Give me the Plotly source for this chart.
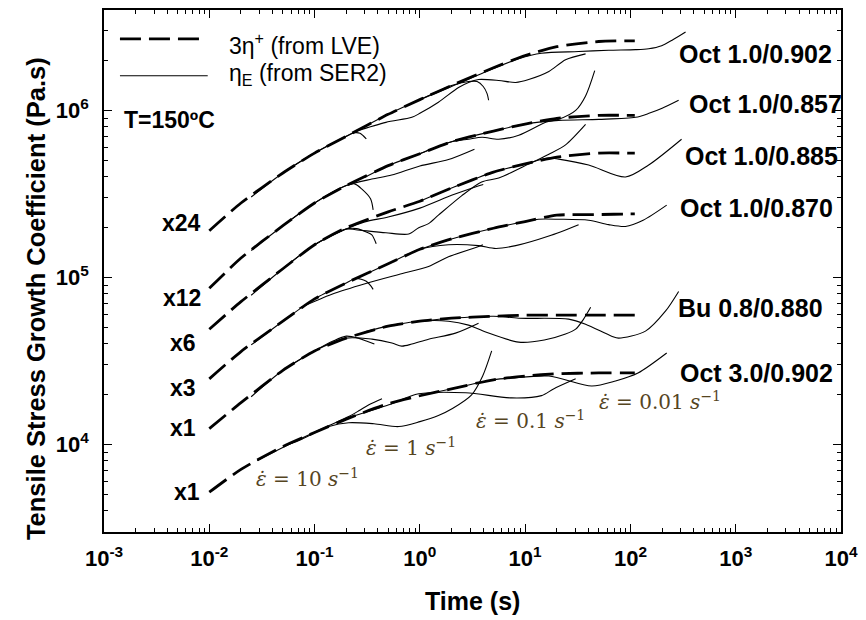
import plotly.graph_objects as go

# ---------------- data ----------------
# Linear viscoelastic envelope (3*eta+ times shift factor), common time grid (s)
lve_t = [0.01, 0.02, 0.05, 0.1, 0.2, 0.5, 1, 2, 5, 10, 20, 50, 100, 110]
lve_oct10_902 = [1.905e5, 2.79e5, 4.22e5, 5.55e5, 7.0e5, 9.47e5, 1.16e6, 1.41e6, 1.80e6, 2.13e6, 2.41e6, 2.585e6, 2.61e6, 2.61e6]
lve_oct10_857 = [8.6e4, 1.306e5, 2.04e5, 2.79e5, 3.55e5, 4.67e5, 5.5e5, 6.49e5, 7.52e5, 8.28e5, 8.96e5, 9.34e5, 9.34e5, 9.34e5]
lve_oct10_885 = [4.9e4, 7.16e4, 1.127e5, 1.57e5, 1.985e5, 2.47e5, 2.86e5, 3.43e5, 4.27e5, 4.79e5, 5.25e5, 5.55e5, 5.55e5, 5.55e5]
lve_oct10_870 = [2.47e4, 3.6e4, 5.47e4, 7.44e4, 9.27e4, 1.206e5, 1.474e5, 1.70e5, 1.97e5, 2.16e5, 2.36e5, 2.38e5, 2.40e5, 2.40e5]
lve_bu08_880 = [1.245e4, 1.778e4, 2.78e4, 3.63e4, 4.33e4, 5.11e4, 5.47e4, 5.70e4, 5.86e4, 5.94e4, 5.94e4, 5.94e4, 5.94e4, 5.94e4]
lve_oct30_902 = [5.18e3, 7.10e3, 9.73e3, 1.179e4, 1.419e4, 1.754e4, 1.957e4, 2.154e4, 2.44e4, 2.57e4, 2.65e4, 2.68e4, 2.68e4, 2.68e4]

# SER2 extensional viscosity, per material and Hencky rate (10, 1, 0.1, 0.01 1/s)
a10_t = [0.025, 0.05, 0.1, 0.2, 0.24, 0.27, 0.29, 0.31]
a10_e = [3.03e5, 4.22e5, 5.55e5, 7.0e5, 7.35e5, 7.3e5, 7.05e5, 6.75e5]
a1_t = [0.05, 0.1, 0.2, 0.5, 1, 2, 2.9, 3.5, 4.0, 4.35, 4.5]
a1_e = [4.22e5, 5.55e5, 7.0e5, 9.47e5, 1.16e6, 1.41e6, 1.49e6, 1.49e6, 1.39e6, 1.26e6, 1.15e6]
a01_t = [0.246, 0.476, 0.839, 1.0, 1.5, 2.33, 2.9, 3.61, 5.61, 8.14, 10.8, 16.8, 24.2, 37.5]
a01_e = [7.5e5, 8.48e5, 9.09e5, 9.6e5, 1.12e6, 1.37e6, 1.47e6, 1.53e6, 1.51e6, 1.47e6, 1.53e6, 1.71e6, 2.01e6, 2.18e6]
a001_t = [1.0, 2.0, 5.0, 8.7, 14.3, 32.2, 62.1, 112, 149, 198, 253, 334]
a001_e = [1.16e6, 1.39e6, 1.78e6, 2.04e6, 2.20e6, 2.25e6, 2.29e6, 2.31e6, 2.34e6, 2.44e6, 2.65e6, 2.95e6]

b10_t = [0.025, 0.05, 0.1, 0.2, 0.24, 0.28, 0.34, 0.36]
b10_e = [1.45e5, 2.04e5, 2.79e5, 3.55e5, 3.63e5, 3.39e5, 2.96e5, 2.54e5]
b1_t = [0.05, 0.1, 0.2, 0.35, 0.54, 1.0, 1.87, 3.3]
b1_e = [2.04e5, 2.79e5, 3.55e5, 3.88e5, 4.1e5, 4.65e5, 5.08e5, 5.86e5]
b01_t = [0.3, 0.5, 1.0, 2.0, 2.9, 3.9, 5.6, 8.7, 15.7, 20.8, 30.2, 37.5, 45.8]
b01_e = [3.98e5, 4.67e5, 5.5e5, 6.49e5, 6.72e5, 6.90e5, 6.72e5, 7.10e5, 8.48e5, 8.84e5, 1.0e6, 1.22e6, 1.73e6]
b001_t = [1.0, 2.0, 5.0, 10, 20.8, 50, 112, 150, 200, 287]
b001_e = [5.5e5, 6.49e5, 7.52e5, 8.28e5, 8.72e5, 8.84e5, 9.09e5, 9.6e5, 1.03e6, 1.15e6]

c10_t = [0.025, 0.05, 0.1, 0.2, 0.25, 0.31, 0.35, 0.385]
c10_e = [7.82e4, 1.127e5, 1.57e5, 1.95e5, 1.96e5, 1.87e5, 1.80e5, 1.59e5]
c1_t = [0.05, 0.1, 0.2, 0.3, 0.5, 1.0, 2.0, 3.0, 4.0]
c1_e = [1.127e5, 1.57e5, 1.95e5, 2.15e5, 2.3e5, 2.6e5, 3.1e5, 3.4e5, 3.6e5]
c01_t = [0.1, 0.2, 0.246, 0.476, 0.785, 0.975, 1.21, 1.5, 2.49, 3.86, 5.61, 10.8, 16.8, 24.2, 37.5]
c01_e = [1.57e5, 1.95e5, 1.93e5, 1.85e5, 1.82e5, 1.985e5, 2.1e5, 2.36e5, 3.08e5, 3.73e5, 3.94e5, 4.77e5, 5.47e5, 6.22e5, 8.24e5]
c001_t = [1.0, 2.0, 5.0, 10, 16.8, 20.8, 40.1, 89.7, 149, 306]
c001_e = [2.86e5, 3.43e5, 4.27e5, 4.79e5, 5.19e5, 5.11e5, 4.71e5, 3.99e5, 4.71e5, 6.72e5]

d10_t = [0.025, 0.05, 0.1, 0.2, 0.246, 0.31, 0.345, 0.36]
d10_e = [3.95e4, 5.47e4, 7.44e4, 9.27e4, 9.86e4, 9.5e4, 8.85e4, 8.48e4]
d1_t = [0.0711, 0.146, 0.307, 0.631, 1.21, 1.87, 3.61, 3.97]
d1_e = [6.54e4, 7.93e4, 9.2e4, 1.042e5, 1.163e5, 1.33e5, 1.53e5, 1.57e5]
d01_t = [0.3, 0.5, 1.0, 1.87, 3.61, 5.26, 8.14, 16.8, 32.2]
d01_e = [1.042e5, 1.206e5, 1.474e5, 1.57e5, 1.55e5, 1.49e5, 1.55e5, 1.77e5, 2.07e5]
d001_t = [1.0, 2.0, 5.0, 10, 13.4, 20.8, 40.1, 62.1, 89.7, 132, 221]
d001_e = [1.474e5, 1.70e5, 1.97e5, 2.16e5, 2.23e5, 2.23e5, 2.2e5, 2.07e5, 2.02e5, 2.2e5, 2.71e5]

e10_t = [0.025, 0.05, 0.1, 0.15, 0.2, 0.26, 0.31, 0.37]
e10_e = [1.93e4, 2.78e4, 3.63e4, 4.16e4, 4.45e4, 4.33e4, 4.16e4, 3.99e4]
e1_t = [0.05, 0.1, 0.198, 0.351, 0.543, 0.674, 0.839, 1.21, 2.18, 3.61]
e1_e = [2.78e4, 3.63e4, 4.33e4, 4.27e4, 4.05e4, 3.88e4, 3.99e4, 4.27e4, 4.64e4, 5.32e4]
e01_t = [0.3, 0.5, 0.975, 1.87, 2.9, 4.22, 8.68, 15.2, 24.2, 30.2, 35.9, 41.9]
e01_e = [4.72e4, 5.11e4, 5.47e4, 5.47e4, 5.18e4, 4.71e4, 4.10e4, 4.22e4, 4.58e4, 4.90e4, 5.63e4, 6.62e4]
e001_t = [1.0, 2.0, 5.0, 8.7, 25.9, 37.5, 66.3, 77.1, 139, 216, 287]
e001_e = [5.47e4, 5.7e4, 5.86e4, 5.7e4, 5.63e4, 5.25e4, 4.45e4, 4.33e4, 4.77e4, 6.3e4, 8.24e4]

f10_t = [0.0285, 0.0711, 0.137, 0.211, 0.263, 0.328, 0.437]
f10_e = [8.03e3, 1.071e4, 1.30e4, 1.47e4, 1.59e4, 1.73e4, 1.88e4]
f1_t = [0.05, 0.0711, 0.137, 0.211, 0.367, 0.631, 1.0, 1.5, 2.04, 3.1, 3.95, 4.81]
f1_e = [9.73e3, 1.056e4, 1.28e4, 1.35e4, 1.33e4, 1.28e4, 1.37e4, 1.49e4, 1.64e4, 1.98e4, 2.57e4, 3.63e4]
f01_t = [0.211, 0.508, 0.975, 2.73, 7.46, 14.3, 18.6, 30.2]
f01_e = [1.45e4, 1.73e4, 2.01e4, 2.04e4, 1.90e4, 1.96e4, 2.15e4, 2.47e4]
f001_t = [1.0, 2.0, 5.0, 7.46, 16.8, 42.9, 72.2, 118, 221]
f001_e = [1.957e4, 2.154e4, 2.44e4, 2.5e4, 2.57e4, 2.24e4, 2.4e4, 2.68e4, 3.53e4]

materials = ["Oct 1.0/0.902", "Oct 1.0/0.857", "Oct 1.0/0.885",
             "Oct 1.0/0.870", "Bu 0.8/0.880", "Oct 3.0/0.902"]
shift_labels = ["x24", "x12", "x6", "x3", "x1", "x1"]
rate_labels = ["10", "1", "0.1", "0.01"]
x_tick_vals = [1e-3, 1e-2, 1e-1, 1e0, 1e1, 1e2, 1e3, 1e4]
x_tick_text = ["10<sup>-3</sup>", "10<sup>-2</sup>", "10<sup>-1</sup>", "10<sup>0</sup>",
               "10<sup>1</sup>", "10<sup>2</sup>", "10<sup>3</sup>", "10<sup>4</sup>"]
y_tick_vals = [1e4, 1e5, 1e6]
y_tick_text = ["10<sup>4</sup>", "10<sup>5</sup>", "10<sup>6</sup>"]

# ---------------- figure ----------------
FONT = "Arial, 'Liberation Sans', sans-serif"
fig = go.Figure()

lve_sets = [lve_oct10_902, lve_oct10_857, lve_oct10_885,
            lve_oct10_870, lve_bu08_880, lve_oct30_902]
for eta in lve_sets:
    fig.add_trace(go.Scatter(x=lve_t, y=eta, mode="lines",
                             line=dict(color="black", width=2.8, dash="21px,8px",
                                       shape="spline", smoothing=0.6),
                             hoverinfo="skip", showlegend=False))

ser_sets = [
    (a10_t, a10_e), (a1_t, a1_e), (a01_t, a01_e), (a001_t, a001_e),
    (b10_t, b10_e), (b1_t, b1_e), (b01_t, b01_e), (b001_t, b001_e),
    (c10_t, c10_e), (c1_t, c1_e), (c01_t, c01_e), (c001_t, c001_e),
    (d10_t, d10_e), (d1_t, d1_e), (d01_t, d01_e), (d001_t, d001_e),
    (e10_t, e10_e), (e1_t, e1_e), (e01_t, e01_e), (e001_t, e001_e),
    (f10_t, f10_e), (f1_t, f1_e), (f01_t, f01_e), (f001_t, f001_e),
]
for t, eta in ser_sets:
    fig.add_trace(go.Scatter(x=t, y=eta, mode="lines",
                             line=dict(color="black", width=1.1,
                                       shape="spline", smoothing=0.8),
                             hoverinfo="skip", showlegend=False))

minor_x = [k * 10.0 ** n for n in range(-3, 4) for k in range(2, 10)]
minor_y = [k * 10.0 ** n for n in range(3, 7) for k in range(2, 10)]

axis_common = dict(type="log", showline=True, linecolor="black", linewidth=1.5,
                   mirror="ticks", ticks="inside", ticklen=8, tickwidth=1.3,
                   tickcolor="black", showgrid=False, zeroline=False,
                   tickfont=dict(family=FONT, size=22, color="black", weight="bold"))
fig.update_xaxes(range=[-3, 4], tickmode="array", tickvals=x_tick_vals,
                 ticktext=x_tick_text, ticklabelstandoff=6,
                 minor=dict(ticks="inside", ticklen=4, tickwidth=1, tickcolor="black",
                            tickmode="array", tickvals=minor_x, showgrid=False),
                 **axis_common)
fig.update_yaxes(range=[3.476, 6.601], tickmode="array", tickvals=y_tick_vals,
                 ticktext=y_tick_text, ticklabelstandoff=9,
                 minor=dict(ticks="inside", ticklen=4, tickwidth=1, tickcolor="black",
                            tickmode="array", tickvals=minor_y, showgrid=False),
                 **axis_common)

L, R, T, B = 104, 23, 8, 88
W, H = 866, 620
PW, PH = W - L - R, H - T - B


def px(x):
    return (x - L) / PW


def py(y):
    return (H - B - y) / PH


ann = []
# legend
fig.add_shape(type="line", xref="paper", yref="paper", x0=px(120), x1=px(200),
              y0=py(37), y1=py(37), line=dict(color="black", width=2.8, dash="21px,8px"))
fig.add_shape(type="line", xref="paper", yref="paper", x0=px(120), x1=px(208),
              y0=py(74), y1=py(74), line=dict(color="black", width=1.1))
ann.append(dict(text="3η<sup>+</sup> (from LVE)", x=px(227), y=py(42),
                xanchor="left", yanchor="middle",
                font=dict(family=FONT, size=23, color="black")))
ann.append(dict(text="η<sub>E</sub> (from SER2)", x=px(227), y=py(73),
                xanchor="left", yanchor="middle",
                font=dict(family=FONT, size=23, color="black")))
ann.append(dict(text="T=150ºC", x=px(122), y=py(118), xanchor="left", yanchor="middle",
                font=dict(family=FONT, size=23, color="black", weight="bold")))

# shift factors at the start of each envelope
shift_pos = [(203, 222), (203, 297), (198, 342), (198, 387), (198, 428), (202, 492)]
for lab, (x, y) in zip(shift_labels, shift_pos):
    ann.append(dict(text=lab, x=px(x), y=py(y), xanchor="right", yanchor="middle",
                    font=dict(family=FONT, size=23, color="black", weight="bold")))

# material names
mat_pos = [(679, 52), (689, 102), (685, 155), (680, 207), (678, 307), (680, 372)]
for lab, (x, y) in zip(materials, mat_pos):
    ann.append(dict(text=lab, x=px(x), y=py(y), xanchor="left", yanchor="middle",
                    font=dict(family=FONT, size=25, color="black", weight="bold")))

# strain-rate labels
rate_pos = [(254, 478), (365, 447), (475, 420), (598, 400)]
for lab, (x, y) in zip(rate_labels, rate_pos):
    ann.append(dict(text="<i>ε̇</i> = " + lab + " <i>s</i><sup>−1</sup>", x=px(x), y=py(y),
                    xanchor="left", yanchor="middle",
                    font=dict(family="'DejaVu Serif', serif", size=20, color="#56451f")))

# axis titles
ann.append(dict(text="Time (s)", x=px(473), y=py(601), xanchor="center", yanchor="middle",
                font=dict(family=FONT, size=25, color="black", weight="bold")))
ann.append(dict(text="Tensile Stress Growth Coefficient (Pa.s)", x=px(36), y=py(298),
                xanchor="center", yanchor="middle", textangle=-90,
                font=dict(family=FONT, size=25.5, color="black", weight="bold")))

for a in ann:
    a.update(xref="paper", yref="paper", showarrow=False)
fig.update_layout(annotations=ann, width=W, height=H,
                  margin=dict(l=L, r=R, t=T, b=B),
                  paper_bgcolor="white", plot_bgcolor="white", showlegend=False)

fig.write_html("out.html")
